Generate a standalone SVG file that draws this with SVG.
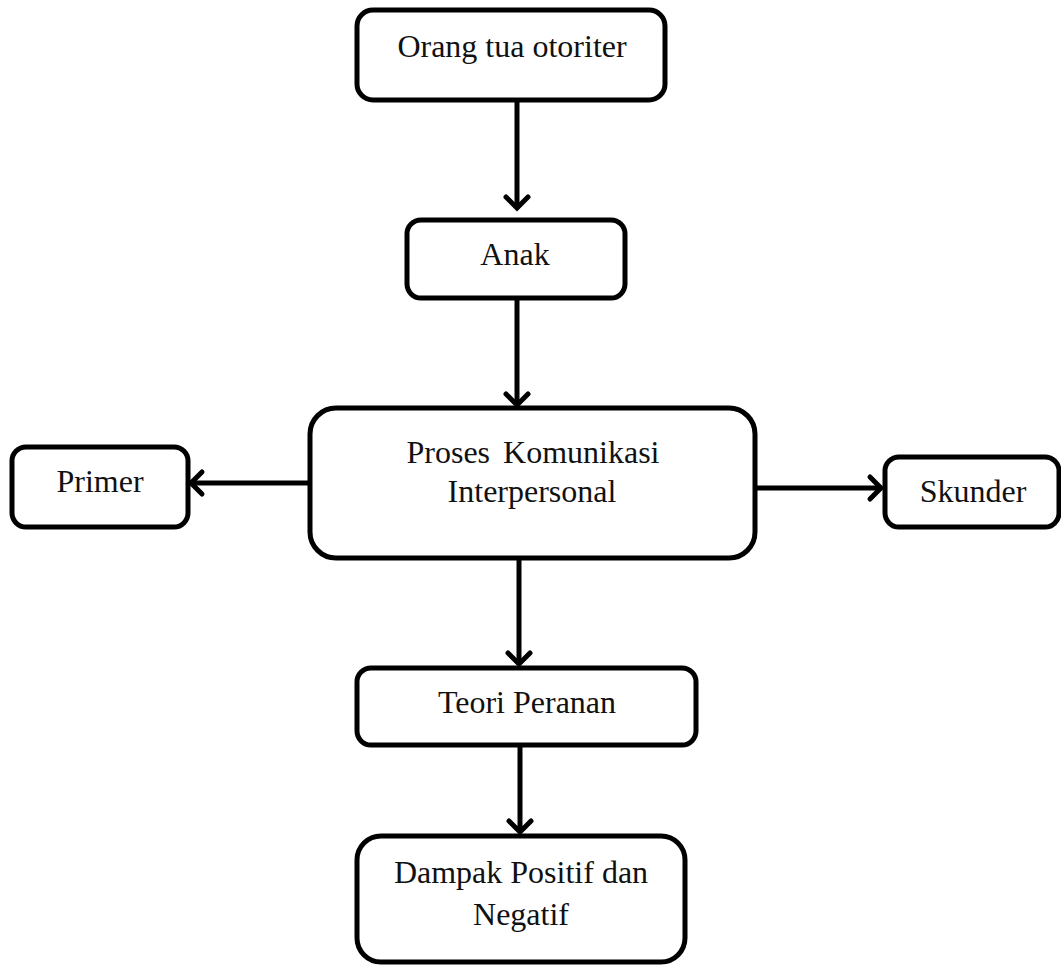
<svg xmlns="http://www.w3.org/2000/svg" width="1061" height="967" viewBox="0 0 1061 967">
<style>
.box{fill:#fff;stroke:#000;stroke-width:5}
.lbl{font-family:"Liberation Serif","Times New Roman",serif;font-size:32px;fill:#111;text-anchor:middle}
.conn{fill:none;stroke:#000;stroke-width:5}
</style>
<defs>
<marker id="arr" markerUnits="userSpaceOnUse" markerWidth="30" markerHeight="30" viewBox="-15 -15 30 30" refX="0" refY="0" orient="auto" overflow="visible">
<path d="M -11,-11 L 0,0 L -11,11" fill="none" stroke="#000" stroke-width="5" stroke-linecap="round" stroke-linejoin="miter"/>
</marker>
</defs>
<rect width="1061" height="967" fill="#fff"/>
<g id="connectors">
<line class="conn" x1="517" y1="100" x2="517" y2="208" marker-end="url(#arr)"/>
<line class="conn" x1="517" y1="298" x2="517" y2="405" marker-end="url(#arr)"/>
<line class="conn" x1="519" y1="558" x2="519" y2="664" marker-end="url(#arr)"/>
<line class="conn" x1="520" y1="745" x2="520" y2="832" marker-end="url(#arr)"/>
<line class="conn" x1="310" y1="483" x2="191" y2="483" marker-end="url(#arr)"/>
<line class="conn" x1="755" y1="488" x2="881" y2="488" marker-end="url(#arr)"/>
</g>
<g id="node-orang">
<rect class="box" x="357" y="10" width="308" height="90" rx="16"/>
<text class="lbl" x="512" y="57">Orang tua otoriter</text>
</g>
<g id="node-anak">
<rect class="box" x="407" y="220" width="218" height="78" rx="14"/>
<text class="lbl" x="515" y="265">Anak</text>
</g>
<g id="node-proses">
<rect class="box" x="310" y="408" width="445" height="150" rx="26"/>
<text class="lbl" x="533" y="463" word-spacing="5">Proses Komunikasi</text>
<text class="lbl" x="532" y="502">Interpersonal</text>
</g>
<g id="node-primer">
<rect class="box" x="12" y="447" width="176" height="80" rx="14"/>
<text class="lbl" x="100" y="492">Primer</text>
</g>
<g id="node-skunder">
<rect class="box" x="885" y="457" width="174" height="70" rx="14"/>
<text class="lbl" x="973" y="502">Skunder</text>
</g>
<g id="node-teori">
<rect class="box" x="357" y="668" width="339" height="77" rx="14"/>
<text class="lbl" x="527" y="713">Teori Peranan</text>
</g>
<g id="node-dampak">
<rect class="box" x="357" y="836" width="328" height="126" rx="24"/>
<text class="lbl" x="521" y="883">Dampak Positif dan</text>
<text class="lbl" x="521" y="925">Negatif</text>
</g>
</svg>
